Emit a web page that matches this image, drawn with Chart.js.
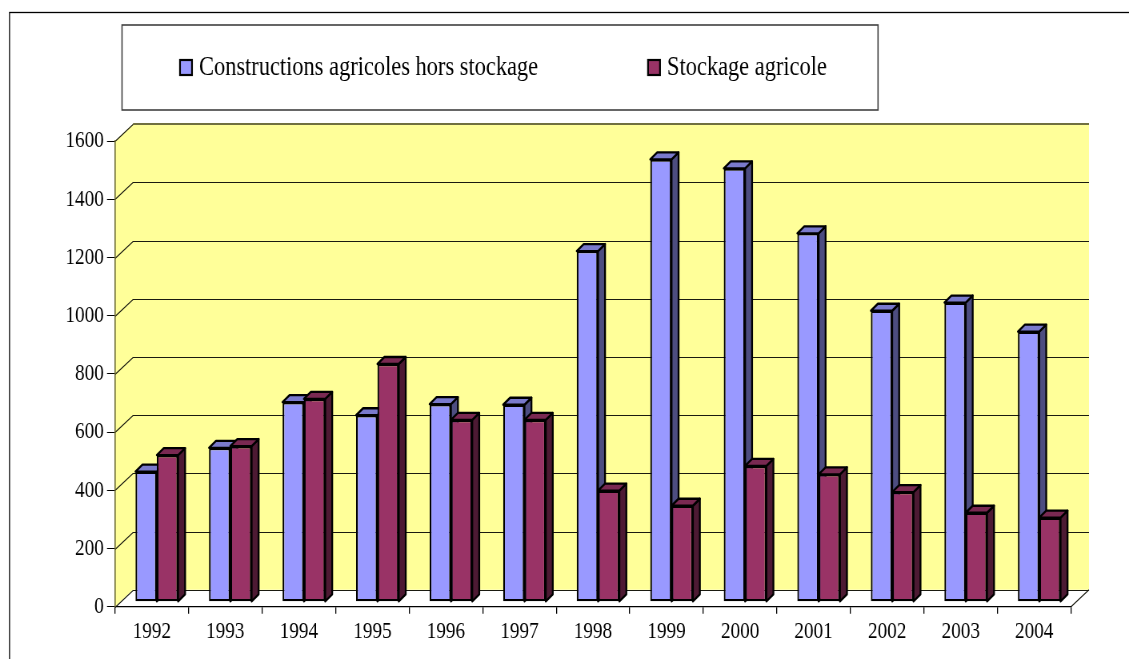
<!DOCTYPE html>
<html lang="fr">
<head>
<meta charset="utf-8">
<title>Constructions agricoles et stockage agricole, 1992-2004</title>
<script src="https://cdn.jsdelivr.net/npm/chart.js@4.4.1/dist/chart.umd.min.js"></script>
<style>
  html, body { margin: 0; background: #fff; }
  canvas { display: block; }
</style>
</head>
<body>
<!-- le canvas est plus large que son affichage : le texte sort un peu resserré -->
<canvas id="graphique" width="1411" height="659" style="width:1129px;height:659px"></canvas>
<script>
// Données
const annees = ['1992', '1993', '1994', '1995', '1996', '1997', '1998', '1999', '2000', '2001', '2002', '2003', '2004'];
const constructions = [447, 529, 686, 641, 679, 677, 1205, 1520, 1489, 1266, 1000, 1028, 928];
const stockage = [504, 535, 697, 817, 625, 625, 382, 330, 467, 438, 377, 306, 289];
const libelles = ['Constructions agricoles hors stockage', 'Stockage agricole'];
const graduations = [0, 200, 400, 600, 800, 1000, 1200, 1400, 1600];

// Couleurs des faces (avant, côté, dessus)
const faces = ['#9999ff', '#993366'];
const cotes = ['#4d4d80', '#4d1a33'];
const dessus = ['#7a7acc', '#7a2952'];
const MUR = '#ffff99';

// Géométrie (x en pixels du canvas, resserré d'un facteur K à l'affichage)
const K = 1411 / 1129;
const GAUCHE = 115 * K, DROITE = 1071 * K, HAUT = 141.1, BAS = 606.8;
const DX = 18 * K, DY = 17;        // profondeur des murs
const BX = 5 * K, BY = 5;          // recul des barres
const BDX = 7 * K, BDY = 7;        // épaisseur des barres
const POLICE = "'Liberation Serif', 'Times New Roman', serif";

function polygone(ctx, pts, fond) {
    ctx.beginPath();
    pts.forEach(([x, y], i) => i ? ctx.lineTo(x, y) : ctx.moveTo(x, y));
    ctx.closePath();
    ctx.fillStyle = fond;
    ctx.fill();
    ctx.stroke();
}

// côté droit et dessus de chaque barre d'une série
function volumes(ctx, meta, i) {
    ctx.save();
    ctx.strokeStyle = '#000';
    ctx.lineWidth = 2.3;
    ctx.lineJoin = 'round';
    meta.data.forEach(el => {
        const { x, y, base, width } = el.getProps(['x', 'y', 'base', 'width'], true);
        const g = x - width / 2, d = x + width / 2;
        polygone(ctx, [[d, y], [d + BDX, y - BDY], [d + BDX, base - BDY], [d, base]], cotes[i]);
        polygone(ctx, [[g, y], [g + BDX, y - BDY], [d + BDX, y - BDY], [d, y]], dessus[i]);
    });
    ctx.restore();
}

const relief = {
    id: 'relief',
    beforeDraw(chart) {
        const { ctx, chartArea: a, scales: { y } } = chart;
        ctx.save();

        // cadre extérieur
        ctx.strokeStyle = '#000';
        ctx.lineWidth = 1.3;
        ctx.strokeRect(9.5 * K, 12.5, chart.width + 20, chart.height + 20);

        // cadre de la légende
        ctx.strokeStyle = '#404040';
        ctx.lineWidth = 1.6;
        ctx.strokeRect(122 * K, 25, 756 * K, 85);

        // légende
        const xs = [180 * K, 648 * K];
        ctx.font = `28px ${POLICE}`;
        ctx.textBaseline = 'middle';
        chart.data.datasets.forEach((ds, i) => {
            ctx.fillStyle = faces[i];
            ctx.fillRect(xs[i], 60, 12 * K, 15);
            ctx.strokeStyle = '#000';
            ctx.lineWidth = 2.2;
            ctx.strokeRect(xs[i], 60, 12 * K, 15);
            ctx.fillStyle = '#000';
            ctx.fillText(ds.label, xs[i] + 19 * K, 68);
        });

        // mur de gauche et mur du fond
        ctx.beginPath();
        ctx.moveTo(a.left, a.top);
        ctx.lineTo(a.left + DX, a.top - DY);
        ctx.lineTo(a.right + DX, a.top - DY);
        ctx.lineTo(a.right + DX, a.bottom - DY);
        ctx.lineTo(a.left + DX, a.bottom - DY);
        ctx.lineTo(a.left, a.bottom);
        ctx.closePath();
        ctx.fillStyle = MUR;
        ctx.fill();

        // quadrillage sur les murs
        ctx.strokeStyle = '#1a1a10';
        ctx.lineWidth = 1.1;
        ctx.beginPath();
        y.ticks.forEach(t => {
            const py = Math.round(y.getPixelForValue(t.value)) + 0.5;
            ctx.moveTo(a.left, py);
            ctx.lineTo(a.left + DX, py - DY);
            ctx.lineTo(a.right + DX, py - DY);
        });
        // bord droit du plancher
        ctx.moveTo(a.right, a.bottom);
        ctx.lineTo(a.right + DX, a.bottom - DY);
        ctx.stroke();

        // arête haute du mur du fond
        ctx.strokeStyle = '#707040';
        ctx.lineWidth = 2;
        ctx.beginPath();
        ctx.moveTo(a.left + DX, a.top - DY);
        ctx.lineTo(a.right + DX, a.top - DY);
        ctx.stroke();
        ctx.restore();
    },
    // les séries sont dessinées de gauche à droite pour que la barre de
    // droite recouvre le côté de sa voisine
    beforeDatasetsDraw(chart) {
        const ctx = chart.ctx;
        ctx.save();
        ctx.translate(BX, -BY);
        chart.getSortedVisibleDatasetMetas().forEach(meta => {
            meta.controller.draw();
            volumes(ctx, meta, meta.index);
        });
        ctx.restore();
        return false;
    }
};

const barre = {
    borderColor: '#000',
    borderWidth: { top: 2.3, bottom: 2.3, left: 2.2, right: 2.2 },
    borderSkipped: false,
    categoryPercentage: 0.58,
    barPercentage: 1,
    clip: false
};

new Chart(document.getElementById('graphique'), {
    type: 'bar',
    data: {
        labels: annees,
        datasets: [
            { ...barre, label: libelles[0], data: constructions, backgroundColor: faces[0] },
            { ...barre, label: libelles[1], data: stockage, backgroundColor: faces[1] }
        ]
    },
    options: {
        responsive: false,
        devicePixelRatio: 1,
        animation: false,
        events: [],
        layout: { padding: { left: 0, top: HAUT, right: 1411 - DROITE, bottom: 0 } },
        plugins: { legend: { display: false }, tooltip: { enabled: false } },
        scales: {
            x: {
                grid: { offset: true, drawOnChartArea: false, tickLength: 7, color: '#000', lineWidth: 1.3 },
                border: { color: '#000', width: 1.2 },
                ticks: { color: '#000', padding: 4, font: { family: POLICE, size: 24 } },
                afterFit: s => { s.height = 659 - BAS; }
            },
            y: {
                min: 0,
                max: 1600,
                afterBuildTicks: s => { s.ticks = graduations.map(v => ({ value: v })); },
                grid: { drawOnChartArea: false, tickLength: 10, color: '#000', lineWidth: 1 },
                border: { color: '#6b6b35', width: 1.6 },
                ticks: { color: '#000', padding: 4, font: { family: POLICE, size: 24 }, callback: v => String(v) },
                afterFit: s => { s.width = GAUCHE; }
            }
        }
    },
    plugins: [relief]
});
</script>
</body>
</html>
